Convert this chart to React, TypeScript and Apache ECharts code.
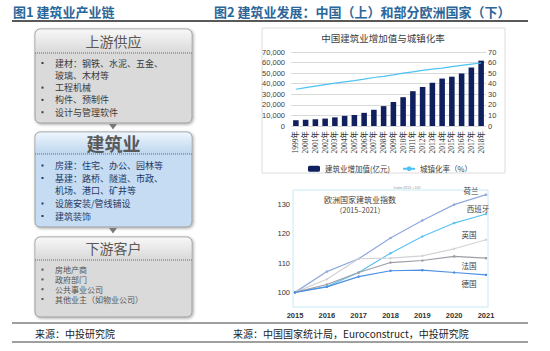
import React, { useEffect, useRef } from "react";
import * as echarts from "echarts";

const years = ["1999年","2000年","2001年","2002年","2003年","2004年","2005年","2006年","2007年","2008年","2009年","2010年","2011年","2012年","2013年","2014年","2015年","2016年","2017年","2018年"];
const valueAdded = [5470,5918,6375,7005,8181,9572,10400,12451,15348,18807,22682,27259,32926,36896,40897,44881,46627,49703,55313,61808];
const urbanRate = [34.78,36.22,37.66,39.09,40.53,41.76,42.99,44.34,45.89,46.99,48.34,49.95,51.27,52.57,53.73,54.77,56.1,57.35,58.52,59.58];

const euroYears = ["2015","2016","2017","2018","2019","2020","2021"];
const netherlands = [100,107.1,111.5,118.6,124.6,130,133.4];
const spain = [100,102,106.8,113.4,119.1,123.7,126.8];
const uk = [100,104.5,111.5,111.7,112.5,114.9,118];
const france = [100,102.7,106.8,110.2,110.9,112.3,111.7];
const germany = [100,101.9,105.4,107.4,107.6,106.8,106];

const upstream = ["建材：钢铁、水泥、五金、","玻璃、木材等","工程机械","构件、预制件","设计与管理软件"];
const core = ["房建：住宅、办公、园林等","基建：路桥、隧道、市政、","机场、港口、矿井等","设施安装/管线铺设","建筑装饰"];
const downstream = ["房地产商","政府部门","公共事业公司","其他业主（如物业公司）"];

const FONT = "'Noto Sans CJK SC', sans-serif";

function makeBox(cfg: any) {
  const { top, bottom, headerBottom, title, titleSize, titleBold, titleY, items, itemYs, bullets, headTop, headBottom, bodyFill, textColor, textSize } = cfg;
  const L = 35, W = 157;
  const els: any[] = [];
  els.push({ type: "rect", shape: { x: L, y: top, width: W, height: bottom - top, r: 5 },
    style: { fill: bodyFill, stroke: "#9c9c9c", lineWidth: 1, shadowBlur: 3, shadowOffsetX: 1, shadowOffsetY: 1, shadowColor: "rgba(0,0,0,0.35)" } });
  els.push({ type: "rect", shape: { x: L + 0.5, y: top + 0.5, width: W - 1, height: headerBottom - top - 0.5, r: [5, 5, 0, 0] },
    style: { fill: { type: "linear", x: 0, y: 0, x2: 0, y2: 1, colorStops: [{ offset: 0, color: headTop }, { offset: 1, color: headBottom }] } } });
  els.push({ type: "line", shape: { x1: L, y1: headerBottom, x2: L + W, y2: headerBottom },
    style: { stroke: "#6b6b6b", lineWidth: 1, lineDash: [1, 1] } });
  els.push({ type: "text", x: L + W / 2, y: titleY,
    style: { text: title, fill: "#595959", font: `${titleBold ? "bold " : ""}${titleSize}px ${FONT}`, textAlign: "center", textVerticalAlign: "middle" } });
  items.forEach((t: string, i: number) => {
    const y = itemYs[i];
    if (bullets[i]) {
      els.push({ type: "rect", shape: { x: 41.5, y: y - 1, width: 2, height: 2 }, style: { fill: textColor } });
    }
    els.push({ type: "text", x: 55, y, style: { text: t, fill: textColor, font: `${textSize}px ${FONT}`, textAlign: "left", textVerticalAlign: "middle" } });
  });
  return els;
}

export default function App() {
  const ref = useRef<HTMLDivElement>(null);
  useEffect(() => {
    const chart = echarts.init(ref.current!, null, { renderer: "svg" });
    const label = (text: string, x: number, y: number) => ({ type: "text", x, y, style: { text, fill: "#404040", font: `7.5px ${FONT}`, textAlign: "center", textVerticalAlign: "middle" } });
    const graphics: any[] = [
      { type: "line", shape: { x1: 12, y1: 21, x2: 528, y2: 21 }, style: { stroke: "#595959", lineWidth: 2 } },
      { type: "text", x: 13, y: 11, style: { text: "图1 建筑业产业链", fill: "#2b6699", font: `bold 13px ${FONT}`, textVerticalAlign: "middle" } },
      { type: "text", x: 214, y: 11, style: { text: "图2 建筑业发展：中国（上）和部分欧洲国家（下）", fill: "#2b6699", font: `bold 13px ${FONT}`, textVerticalAlign: "middle" } },
      ...makeBox({ top: 29, bottom: 123, headerBottom: 53, title: "上游供应", titleSize: 14, titleBold: false, titleY: 41,
        items: upstream, itemYs: [63, 75.3, 87.6, 99.9, 112.2], bullets: [true, false, true, true, true],
        headTop: "#f7f7f7", headBottom: "#d9d9d9", bodyFill: "#dadada", textColor: "#3a3a3a", textSize: 9 }),
      { type: "polygon", shape: { points: [[109, 124], [117, 124], [113, 129.5]] }, style: { fill: "#7a7a7a" } },
      ...makeBox({ top: 132, bottom: 227, headerBottom: 154, title: "建筑业", titleSize: 18, titleBold: true, titleY: 143,
        items: core, itemYs: [165.5, 178, 190.5, 203.5, 216], bullets: [true, true, false, true, true],
        headTop: "#eef5fc", headBottom: "#bcd6ee", bodyFill: "#c6dcf2", textColor: "#1f3a66", textSize: 9 }),
      { type: "polygon", shape: { points: [[109, 228], [117, 228], [113, 233.5]] }, style: { fill: "#7a7a7a" } },
      ...makeBox({ top: 237, bottom: 317, headerBottom: 260, title: "下游客户", titleSize: 14, titleBold: false, titleY: 248,
        items: downstream, itemYs: [269.6, 279.4, 289.2, 299], bullets: [true, true, true, true],
        headTop: "#f7f7f7", headBottom: "#d9d9d9", bodyFill: "#dadada", textColor: "#555555", textSize: 8 }),
      { type: "line", shape: { x1: 12, y1: 323, x2: 528, y2: 323 }, style: { stroke: "#404040", lineWidth: 1.2 } },
      { type: "line", shape: { x1: 12, y1: 342, x2: 528, y2: 342 }, style: { stroke: "#404040", lineWidth: 1.2 } },
      { type: "text", x: 35, y: 333, style: { text: "来源：中投研究院", fill: "#222", font: `10px ${FONT}`, textVerticalAlign: "middle" } },
      { type: "text", x: 233, y: 333, style: { text: "来源：中国国家统计局，Euroconstruct，中投研究院", fill: "#222", font: `10px ${FONT}`, textVerticalAlign: "middle" } },
      { type: "rect", z: -10, shape: { x: 262, y: 28, width: 243, height: 145 }, style: { fill: "#ffffff", stroke: "#dcdcdc", lineWidth: 1 } },
      { type: "text", x: 383, y: 38, style: { text: "中国建筑业增加值与城镇化率", fill: "#404040", font: `9.5px ${FONT}`, textAlign: "center", textVerticalAlign: "middle" } },
      { type: "rect", z: -10, shape: { x: 293, y: 190, width: 195, height: 117 }, style: { fill: "#ffffff", stroke: "#c6e8f7", lineWidth: 1 } },
      { type: "text", x: 407, y: 187, style: { text: "Index 2015 = 100", fill: "#999", font: `3.5px ${FONT}`, textAlign: "center", textVerticalAlign: "middle" } },
      { type: "text", x: 360, y: 199, style: { text: "欧洲国家建筑业指数", fill: "#404040", font: `8px ${FONT}`, textAlign: "center", textVerticalAlign: "middle" } },
      { type: "text", x: 360, y: 210, style: { text: "（2015–2021）", fill: "#404040", font: `7px ${FONT}`, textAlign: "center", textVerticalAlign: "middle" } },
      label("荷兰", 471, 190),
      label("西班牙", 478, 208),
      label("英国", 469, 234),
      label("法国", 469, 265),
      label("德国", 469, 283),
    ];

    const euroLine = (name: string, data: number[], color: string) => ({
      type: "line", name, xAxisIndex: 1, yAxisIndex: 2, data,
      symbol: "circle", symbolSize: 2.5, showSymbol: true,
      lineStyle: { color, width: 1.2 }, itemStyle: { color },
    });

    chart.setOption({
      animation: false,
      backgroundColor: "#ffffff",
      textStyle: { fontFamily: FONT },
      graphic: graphics,
      legend: {
        left: 303, top: 160, itemWidth: 12, itemHeight: 6, itemGap: 12,
        textStyle: { fontSize: 7.5, color: "#404040" },
        data: ["建筑业增加值(亿元)", "城镇化率（%）"],
      },
      grid: [
        { left: 291, right: 64, top: 52, bottom: 225 },
        { left: 295, right: 64, top: 190, bottom: 44 },
      ],
      xAxis: [
        { type: "category", gridIndex: 0, data: years, axisTick: { show: false }, axisLine: { show: false },
          axisLabel: { rotate: 90, interval: 0, fontSize: 7.5, color: "#333", margin: 5, fontFamily: "'Liberation Serif', 'Noto Sans CJK SC', serif" } },
        { type: "category", gridIndex: 1, data: euroYears, boundaryGap: false, axisTick: { show: false }, axisLine: { show: false },
          axisLabel: { fontSize: 7.5, color: "#333", margin: 4, fontWeight: "bold", fontFamily: "'Liberation Sans', sans-serif" } },
      ],
      yAxis: [
        { type: "value", gridIndex: 0, min: 0, max: 70000, interval: 10000,
          splitLine: { lineStyle: { color: "#d9d9d9", width: 1 } },
          axisLabel: { fontSize: 7.5, color: "#404040", margin: 6, fontFamily: "'Liberation Sans', sans-serif" } },
        { type: "value", gridIndex: 0, position: "right", min: 0, max: 70, interval: 10, splitLine: { show: false },
          axisLabel: { fontSize: 7.5, color: "#404040", margin: 2, fontFamily: "'Liberation Sans', sans-serif" } },
        { type: "value", gridIndex: 1, min: 95, max: 135, interval: 5, splitLine: { show: false },
          axisLabel: { fontSize: 7.5, color: "#333", margin: 5, fontFamily: "'Liberation Sans', sans-serif",
            formatter: (v: number) => (v % 10 === 0 ? String(v) : "") } },
      ],
      series: [
        { type: "bar", name: "建筑业增加值(亿元)", xAxisIndex: 0, yAxisIndex: 0, data: valueAdded, barWidth: "57%",
          itemStyle: { color: "#10205e" } },
        { type: "line", name: "城镇化率（%）", xAxisIndex: 0, yAxisIndex: 1, data: urbanRate, symbol: "none",
          lineStyle: { color: "#4cc3f2", width: 1.2 }, itemStyle: { color: "#4cc3f2" } },
        euroLine("荷兰", netherlands, "#8fa8de"),
        euroLine("西班牙", spain, "#5cc3f0"),
        euroLine("英国", uk, "#d3d3d6"),
        euroLine("法国", france, "#9d9da6"),
        euroLine("德国", germany, "#4d8fe4"),
      ],
    });
    return () => chart.dispose();
  }, []);
  return <div ref={ref} style={{ position: "fixed", left: 0, top: 0, width: 550, height: 351 }} />;
}
